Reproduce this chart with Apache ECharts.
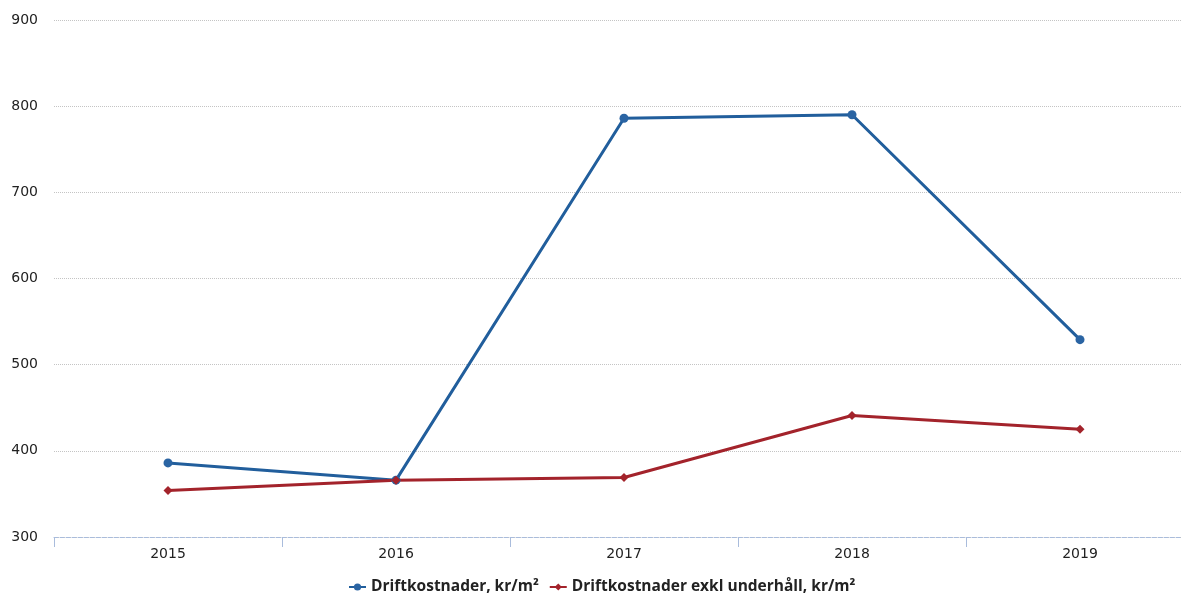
<!DOCTYPE html>
<html>
<head>
<meta charset="utf-8">
<script src="https://cdn.jsdelivr.net/npm/echarts@6/dist/echarts.min.js"></script>
<style>
  html, body { margin: 0; padding: 0; background: #fff; overflow: hidden; }
  #chart { width: 1194px; height: 601px; }
</style>
</head>
<body>
<div id="chart"></div>
<script>
const years = ["2015", "2016", "2017", "2018", "2019"]
const driftkostnader = [386, 366, 786, 790, 529]
const exklUnderhall = [354, 366, 369, 441, 425]
const yTicks = { min: 300, max: 900, interval: 100 }

// the source image is cropped on the right, so the plot runs past the window edge
const chart = echarts.init(document.getElementById("chart"))

const option = {
  animation: false,
  backgroundColor: "#ffffff",
  legend: {
    bottom: 1,
    left: 343,
    itemGap: 10,
    itemWidth: 17,
    itemHeight: 9,
    textStyle: {
      fontFamily: "Open Sans",
      fontSize: 15.5,
      fontWeight: "bold",
      color: "#222",
    },
    data: ["Driftkostnader, kr/m²", "Driftkostnader exkl underhåll, kr/m²"],
  },
  grid: {
    left: 54,
    top: 20,
    bottom: 64,
    right: 0,
    containLabel: false,
  },
  xAxis: {
    type: "category",
    data: years,
    boundaryGap: true,
    axisLine: {
      lineStyle: { color: "#a9bcdc", type: "dashed", width: 1 },
    },
    axisTick: {
      show: true,
      length: 10,
      lineStyle: { color: "#a9bcdc" },
    },
    axisLabel: {
      color: "#222",
      fontFamily: "DejaVu Sans",
      fontSize: 14,
      margin: 10,
    },
  },
  yAxis: {
    type: "value",
    min: yTicks.min,
    max: yTicks.max,
    interval: yTicks.interval,
    axisLine: { show: false },
    axisTick: { show: false },
    axisLabel: {
      color: "#222",
      fontFamily: "DejaVu Sans",
      fontSize: 14,
      margin: 16,
    },
    splitLine: {
      lineStyle: { color: "#c4c4c4", type: "dotted", width: 1 },
    },
  },
  series: [
    {
      name: "Driftkostnader, kr/m²",
      type: "line",
      data: driftkostnader,
      symbol: "circle",
      symbolSize: 9,
      lineStyle: { color: "#215e9c", width: 3 },
      itemStyle: { color: "#2a64a3" },
    },
    {
      name: "Driftkostnader exkl underhåll, kr/m²",
      type: "line",
      data: exklUnderhall,
      symbol: "diamond",
      symbolSize: 9,
      lineStyle: { color: "#a3232b", width: 3 },
      itemStyle: { color: "#a3232b" },
    },
  ],
}

chart.setOption(option)
</script>
</body>
</html>
